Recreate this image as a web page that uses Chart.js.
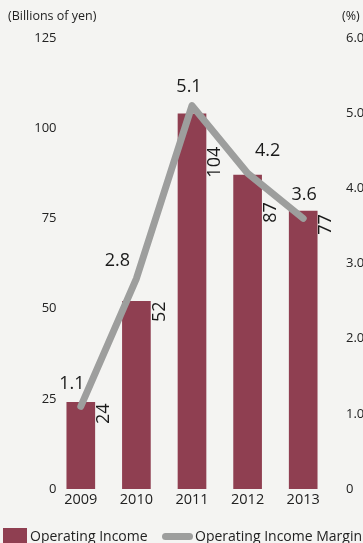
<!DOCTYPE html>
<html>
<head>
<meta charset="utf-8">
<script src="https://cdn.jsdelivr.net/npm/chart.js@4"></script>
<style>
  html, body { margin: 0; padding: 0; background: #f4f4f2; overflow: hidden; }
  #wrap { position: relative; width: 363px; height: 543px; font-family: "Open Sans", sans-serif; color: #222; }
  #wrap canvas { position: absolute; left: 0; top: 0; }
  .lbl { position: absolute; white-space: nowrap; font-size: 12.5px; line-height: 1; }
  .leg { position: absolute; white-space: nowrap; font-size: 14px; line-height: 1; }
</style>
</head>
<body>
<div id="wrap">
  <canvas id="myChart" width="363" height="543"></canvas>
  <div class="lbl" style="left:8px; top:10px;">(Billions of yen)</div>
  <div class="lbl" style="left:342px; top:10px;">(%)</div>
  <div style="position:absolute; left:3px; top:528px; width:24px; height:15px; background:#8f3f51;"></div>
  <div class="leg" style="left:30px; top:529px;">Operating Income</div>
  <div style="position:absolute; left:162px; top:533px; width:31px; height:7px; border-radius:4px; background:#9d9e9d;"></div>
  <div class="leg" style="left:195px; top:529px;">Operating Income Margin</div>
</div>
<script>
// datos del grafico
const years = ['2009', '2010', '2011', '2012', '2013']
const operatingIncome = [24, 52, 104, 87, 77] // miles de millones de yenes
const operatingMargin = [1.1, 2.8, 5.1, 4.2, 3.6] // %
const incomeTicks = [0, 25, 50, 75, 100, 125]
const marginTicks = [0, 1.0, 2.0, 3.0, 4.0, 5.0, 6.0]

// desplazamientos de las etiquetas (solo posicion)
const marginLabelShift = [[-9, -22], [-19, -18], [-3, -19], [20, -22], [1, -24]]
const incomeLabelDrop = [1, 0, 33, 27, 3]

const etiquetasPlugin = {
    id: 'etiquetas',
    afterDatasetsDraw(chart) {
        const ctx = chart.ctx
        ctx.save()

        // etiquetas del eje izquierdo (alineadas a la derecha, pegadas al area)
        const yScale = chart.scales.y
        ctx.fillStyle = '#222'
        ctx.font = '13px "Open Sans"'
        ctx.textAlign = 'right'
        ctx.textBaseline = 'middle'
        incomeTicks.forEach(v => {
            ctx.fillText(String(v), 56.5, yScale.getPixelForValue(v))
        })

        ctx.fillStyle = '#1a1a1a'
        ctx.font = '18px "Open Sans"'

        // valores de las barras, girados
        const barMeta = chart.getDatasetMeta(0)
        barMeta.data.forEach((bar, i) => {
            const x = bar.x + bar.width / 2 + 9
            const y = bar.y + incomeLabelDrop[i]
            ctx.save()
            ctx.translate(x, y)
            ctx.rotate(-Math.PI / 2)
            ctx.textAlign = 'right'
            ctx.textBaseline = 'middle'
            ctx.fillText(String(operatingIncome[i]), 0, 0)
            ctx.restore()
        })

        // valores de la linea
        const lineMeta = chart.getDatasetMeta(1)
        lineMeta.data.forEach((pt, i) => {
            ctx.textAlign = 'center'
            ctx.textBaseline = 'middle'
            ctx.fillText(operatingMargin[i].toFixed(1), pt.x + marginLabelShift[i][0], pt.y + marginLabelShift[i][1])
        })
        ctx.restore()
    }
}

const ctx = document.querySelector('#myChart').getContext('2d')
const myChart = new Chart(ctx, {
    data: {
        labels: years,
        datasets: [{
            type: 'bar',
            label: 'Operating Income',
            data: operatingIncome,
            backgroundColor: '#8f3f51',
            barThickness: 28,
            yAxisID: 'y',
            order: 2
        }, {
            type: 'line',
            label: 'Operating Income Margin',
            data: operatingMargin,
            borderColor: '#9d9e9d',
            borderWidth: 7,
            borderCapStyle: 'round',
            borderJoinStyle: 'round',
            pointRadius: 0,
            tension: 0,
            yAxisID: 'y1',
            order: 1,
            clip: false
        }]
    },
    options: {
        responsive: false,
        animation: false,
        layout: { padding: { top: 38, bottom: 0, left: 0, right: 0 } },
        plugins: {
            legend: { display: false },
            tooltip: { enabled: false }
        },
        scales: {
            x: {
                offset: true,
                grid: { display: false, drawTicks: false },
                border: { display: false },
                ticks: { color: '#222', font: { family: 'Open Sans', size: 14.5 }, padding: 2, maxRotation: 0 },
                afterFit: (scale) => { scale.height = 54 }
            },
            y: {
                position: 'left',
                min: 0,
                max: 125,
                afterBuildTicks: (scale) => { scale.ticks = incomeTicks.map(v => ({ value: v })) },
                grid: { display: false, drawTicks: false },
                border: { display: false },
                ticks: { display: false },
                afterFit: (scale) => { scale.width = 53 }
            },
            y1: {
                position: 'right',
                min: 0,
                max: 6,
                afterBuildTicks: (scale) => { scale.ticks = marginTicks.map(v => ({ value: v })) },
                grid: { display: false, drawTicks: false },
                border: { display: false },
                ticks: {
                    color: '#222',
                    font: { family: 'Open Sans', size: 13 },
                    padding: 15,
                    callback: (v) => v === 0 ? '0' : v.toFixed(1)
                },
                afterFit: (scale) => { scale.width = 32 }
            }
        }
    },
    plugins: [etiquetasPlugin]
})
myChart.render()
</script>
</body>
</html>
